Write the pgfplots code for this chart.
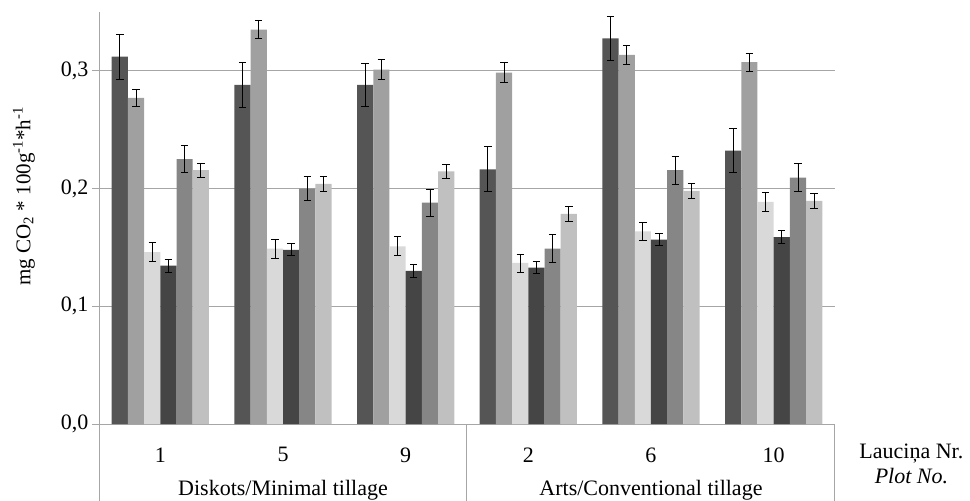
\documentclass[border=0pt]{standalone}
\usepackage{pgfplots}
\pgfplotsset{compat=1.18}
\usepackage{pgfplotstable}
\usepackage{fontspec}
\setmainfont{Liberation Serif}
\definecolor{c1}{HTML}{555555}
\definecolor{c2}{HTML}{A0A0A0}
\definecolor{c3}{HTML}{D9D9D9}
\definecolor{c4}{HTML}{454545}
\definecolor{c5}{HTML}{868686}
\definecolor{c6}{HTML}{C0C0C0}
\definecolor{gridc}{HTML}{A6A6A6}
\pgfplotstableread{
x y1 e1 y2 e2 y3 e3 y4 e4 y5 e5 y6 e6
0 0.312 0.019 0.277 0.0075 0.146 0.008 0.1345 0.0055 0.225 0.0115 0.2156 0.006
1 0.288 0.019 0.335 0.0075 0.149 0.008 0.148 0.005 0.200 0.010 0.204 0.006
2 0.288 0.018 0.301 0.0085 0.151 0.008 0.130 0.0055 0.188 0.0115 0.2147 0.006
3 0.2164 0.019 0.2986 0.0085 0.1368 0.0077 0.1329 0.005 0.149 0.012 0.1785 0.006
4 0.3275 0.019 0.3136 0.0077 0.1637 0.0077 0.1566 0.005 0.2156 0.012 0.198 0.006
5 0.2323 0.0185 0.3074 0.0077 0.1887 0.0077 0.1587 0.0056 0.2094 0.0116 0.1895 0.006
}\data
\pgfplotsset{myerr/.style={error bars/.cd, y dir=both, y explicit,
  error bar style={draw=black, line width=0.8pt},
  error mark=-,
  error mark options={rotate=90, draw=black, mark size=3.7pt, line width=0.8pt}}}
\newcommand{\lbl}{\fontsize{22}{26}\selectfont}
\begin{document}
\begin{tikzpicture}
\useasboundingbox (0,0) rectangle (970pt,501pt);
\begin{axis}[
  at={(99pt,77pt)}, anchor=south west,
  scale only axis, width=736pt, height=412pt,
  xmin=-0.5, xmax=5.5, ymin=0, ymax=0.35,
  axis lines=left, axis line style={-, gridc, line width=1pt},
  ybar=0pt, bar width=16.2pt,
  xtick={0,...,5}, xticklabels={1,5,9,2,6,10},
  major x tick style={draw=none},
  ytick={0,0.1,0.2,0.3},
  major y tick style={gridc, line width=1pt},
  major tick length=7pt, tick align=outside,
  ymajorgrids, grid style={gridc, line width=1pt},
  yticklabel={\pgfmathprintnumber[fixed, fixed zerofill, precision=1, use comma]{\tick}},
  /pgf/number format/assume math mode=true,
  every tick label/.append style={font=\lbl},
  xticklabel style={yshift=-13pt},
  ylabel={mg CO\textsubscript{2} * 100g\textsuperscript{-1}*h\textsuperscript{-1}},
  ylabel style={font=\fontsize{21}{25}\selectfont, at={(axis description cs:-0.102,0.553)}, anchor=center},
  clip=false,
]
\addplot[fill=c1, draw=none, myerr] table[x=x, y=y1, y error=e1] {\data};
\addplot[fill=c2, draw=none, myerr] table[x=x, y=y2, y error=e2] {\data};
\addplot[fill=c3, draw=none, myerr] table[x=x, y=y3, y error=e3] {\data};
\addplot[fill=c4, draw=none, myerr] table[x=x, y=y4, y error=e4] {\data};
\addplot[fill=c5, draw=none, myerr] table[x=x, y=y5, y error=e5] {\data};
\addplot[fill=c6, draw=none, myerr] table[x=x, y=y6, y error=e6] {\data};
\draw[gridc, line width=1pt] (axis cs:-0.5,0) -- ([yshift=-77pt]axis cs:-0.5,0);
\draw[gridc, line width=1pt] (axis cs:2.5,0) -- ([yshift=-77pt]axis cs:2.5,0);
\draw[gridc, line width=1pt] (axis cs:5.5,0) -- ([yshift=-77pt]axis cs:5.5,0);
\node[anchor=base, font=\lbl] at ([yshift=-71pt]axis cs:1,0) {Diskots/Minimal tillage};
\node[anchor=base, font=\lbl] at ([yshift=-71pt]axis cs:4,0) {Arts/Conventional tillage};
\node[anchor=base, font=\lbl] at ([yshift=-34pt]axis cs:6.123,0) {Lauciņa Nr.};
\node[anchor=base, font=\lbl\itshape] at ([yshift=-59pt]axis cs:6.123,0) {Plot No.};
\end{axis}
\end{tikzpicture}
\end{document}
